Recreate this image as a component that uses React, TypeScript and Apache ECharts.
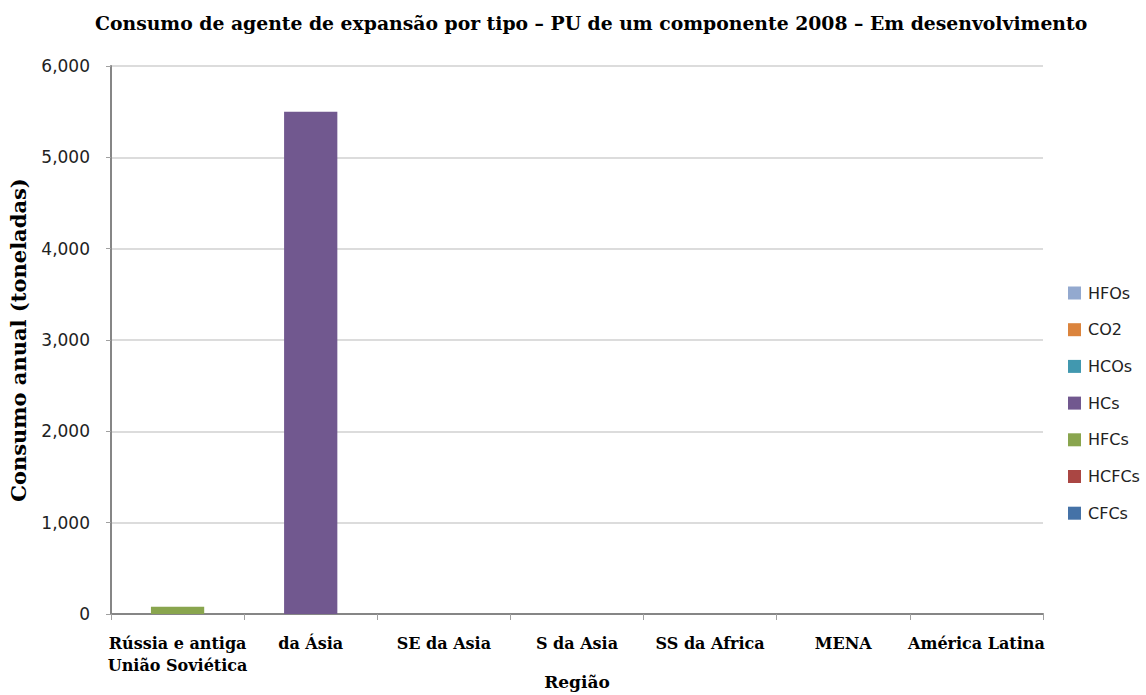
import React, { useEffect, useRef } from "react";
import * as echarts from "echarts";

const categories = [
  "Rússia e antiga\nUnião Soviética",
  "da Ásia",
  "SE da Asia",
  "S da Asia",
  "SS da Africa",
  "MENA",
  "América Latina",
];

// stacked bottom to top
const seriesNames = ["CFCs", "HCFCs", "HFCs", "HCs", "HCOs", "CO2", "HFOs"];
const seriesColors = ["#4572A7", "#AA4643", "#89A54E", "#71588F", "#4198AF", "#DB843D", "#93A9CF"];
const cfcs = [0, 0, 0, 0, 0, 0, 0];
const hcfcs = [0, 0, 0, 0, 0, 0, 0];
const hfcs = [80, 0, 0, 0, 0, 0, 0];
const hcs = [0, 5500, 0, 0, 0, 0, 0];
const hcos = [0, 0, 0, 0, 0, 0, 0];
const co2 = [0, 0, 0, 0, 0, 0, 0];
const hfos = [0, 0, 0, 0, 0, 0, 0];
const seriesValues = [cfcs, hcfcs, hfcs, hcs, hcos, co2, hfos];
const legendOrder = ["HFOs", "CO2", "HCOs", "HCs", "HFCs", "HCFCs", "CFCs"];

const titleText =
  "Consumo de agente de expansão por tipo – PU de um componente 2008 – Em desenvolvimento";
const yAxisName = "Consumo anual (toneladas)";
const xAxisName = "Região";

export default function App() {
  const ref = useRef<HTMLDivElement>(null);
  useEffect(() => {
    if (!ref.current) return;
    const chart = echarts.init(ref.current, undefined, { renderer: "svg" });
    const serif = "'DejaVu Serif', 'Liberation Serif', serif";
    const sans = "'DejaVu Sans', sans-serif";
    chart.setOption({
      animation: false,
      backgroundColor: "#ffffff",
      title: {
        text: titleText,
        left: 90,
        top: 8,
        textStyle: { fontFamily: serif, fontWeight: "bold", fontSize: 18.8, color: "#000" },
      },
      legend: {
        orient: "vertical",
        left: 1063,
        top: 280,
        itemWidth: 13,
        itemHeight: 13,
        itemGap: 20.7,
        icon: "rect",
        data: legendOrder,
        textStyle: { fontFamily: sans, fontSize: 16, color: "#222", padding: [0, 0, 0, 2] },
      },
      grid: {
        left: 111,
        right: 103,
        top: 66,
        bottom: 81,
        containLabel: false,
        outerBoundsMode: "none",
      },
      xAxis: {
        type: "category",
        data: categories,
        name: xAxisName,
        nameLocation: "middle",
        nameGap: 59,
        nameMoveOverlap: false,
        nameTextStyle: { fontFamily: serif, fontWeight: "bold", fontSize: 17, color: "#000" },
        axisLine: { lineStyle: { color: "#868686", width: 2 } },
        axisTick: { show: true, length: 6, lineStyle: { color: "#a0a0a0", width: 1 } },
        axisLabel: {
          interval: 0,
          margin: 18,
          fontFamily: serif,
          fontWeight: "bold",
          fontSize: 16,
          lineHeight: 22,
          color: "#000",
        },
      },
      yAxis: {
        type: "value",
        min: 0,
        max: 6000,
        interval: 1000,
        name: yAxisName,
        nameLocation: "middle",
        nameGap: 82,
        nameMoveOverlap: false,
        nameTextStyle: { fontFamily: serif, fontWeight: "bold", fontSize: 21, color: "#000" },
        axisLine: { show: true, lineStyle: { color: "#868686", width: 2 } },
        axisTick: { show: true, length: 5, lineStyle: { color: "#a0a0a0" } },
        splitLine: { lineStyle: { color: "#d0d0d0", width: 1.5 } },
        axisLabel: {
          margin: 21,
          fontFamily: sans,
          fontSize: 17,
          color: "#222",
          formatter: (v: number) => v.toLocaleString("en-US"),
        },
      },
      series: seriesNames.map((name, i) => ({
        name,
        type: "bar",
        stack: "total",
        barWidth: "40%",
        data: seriesValues[i],
        itemStyle: { color: seriesColors[i] },
      })),
    });
    return () => chart.dispose();
  }, []);
  return (
    <div
      ref={ref}
      style={{ position: "fixed", left: 0, top: 0, width: 1146, height: 695 }}
    />
  );
}
